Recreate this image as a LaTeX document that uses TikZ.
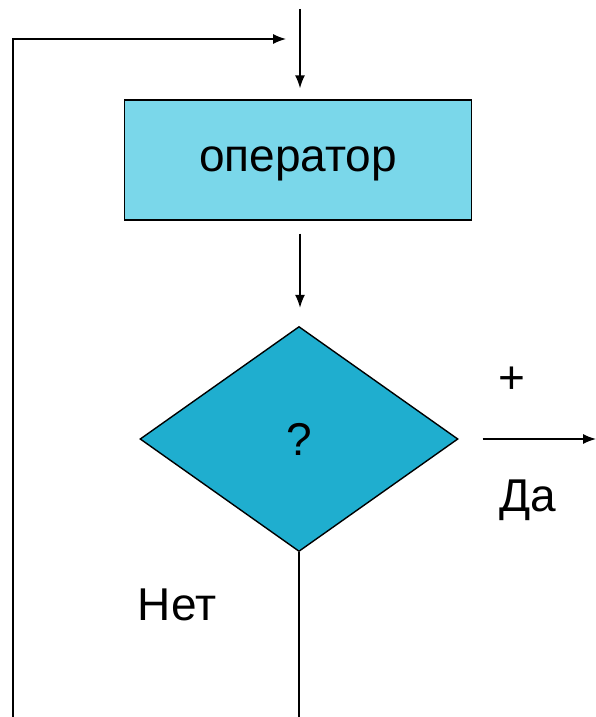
\documentclass[tikz,border=0pt]{standalone}
\usepackage{fontspec}
\setmainfont{Liberation Sans}
\usetikzlibrary{shapes.geometric,arrows.meta}
\definecolor{boxcyan}{RGB}{122,215,234}
\definecolor{diamcyan}{RGB}{31,174,207}

\begin{document}
\begin{tikzpicture}[x=1pt,y=-1pt,
        line width=1.4pt,
        arr/.style={-{Latex[length=13pt,width=10pt]}},
        lbl/.style={font=\fontsize{46}{50}\selectfont}]
        \useasboundingbox (0,0) rectangle (596,717);
        \node[draw,fill=boxcyan,minimum width=347pt,minimum height=120pt,inner sep=0pt] (op) at (298,160) {};
        \node[lbl] (optext) at (298,164) {оператор};
        \node[draw,diamond,fill=diamcyan,minimum width=318pt,minimum height=225pt,inner sep=0pt,aspect=1.41,lbl] (cond) at (299,439) {?};
        \coordinate (start) at (300,9);
        \coordinate (loopbot) at (13,717);
        \coordinate (loopend) at (286,39);
        \coordinate (yes) at (596,439);
        \coordinate (down) at (299,717);
        \draw[arr,shorten >=11pt] (start) -- (op.north -| start);
        \draw[arr,shorten <=13pt,shorten >=18pt] (op.south -| start) -- (cond.north -| start);
        \draw[arr] (loopbot) -- (13,39) -- (loopend);
        \draw[arr,shorten <=24pt] (cond.east) -- (yes);
        \draw (cond.south) -- (down);
        \node[lbl] (plus) at (512,380) {+};
        \node[lbl] (da) at (528,500) {Да};
        \node[lbl] (net) at (177,605) {Нет};
\end{tikzpicture}
\end{document}
